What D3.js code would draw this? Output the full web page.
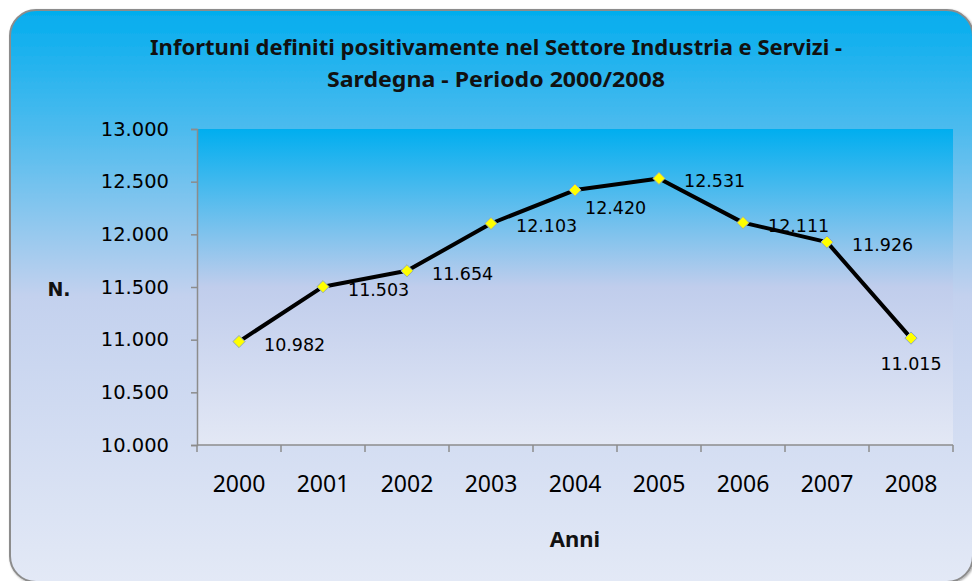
<!DOCTYPE html>
<html>
<head>
<meta charset="utf-8">
<script src="https://cdn.jsdelivr.net/npm/d3@7"></script>
<style>
  body { margin: 0; background: #ffffff; }
  svg { display: block; }
</style>
</head>
<body>
<div id="chart"></div>
<script>
// data
let years = ["2000", "2001", "2002", "2003", "2004", "2005", "2006", "2007", "2008"];
let infortuni = [10982, 11503, 11654, 12103, 12420, 12531, 12111, 11926, 11015];
// where each value label sits next to its point
let labelPlaces = ["right", "right", "right", "right", "belowRight", "right", "right", "right", "below"];
let yTicks = [10000, 10500, 11000, 11500, 12000, 12500, 13000];

let titleLines = ["Infortuni definiti positivamente nel Settore Industria e Servizi -", "Sardegna - Periodo 2000/2008"];

let width = 972;
let height = 581;

/* plot area */
let plotLeft = 197;
let plotRight = 953;
let plotTop = 129;
let plotBottom = 445;

let fmtThousands = function(v) {
    // 12531 -> "12.531", 13000 -> "13.000"
    let s = String(v);
    return s.slice(0, s.length - 3) + "." + s.slice(s.length - 3);
};

let svg = d3.select("#chart")
    .append("svg")
    .attr("width", width)
    .attr("height", height);

let defs = svg.append("defs");

let outerGrad = defs.append("linearGradient")
    .attr("id", "outerGrad")
    .attr("x1", 0).attr("y1", 0).attr("x2", 0).attr("y2", 1);
outerGrad.append("stop").attr("offset", "0%").attr("stop-color", "#03adee");
outerGrad.append("stop").attr("offset", "21%").attr("stop-color", "#4dbbee");
outerGrad.append("stop").attr("offset", "50%").attr("stop-color", "#c3d1ee");
outerGrad.append("stop").attr("offset", "100%").attr("stop-color", "#e3e9f6");

let plotGrad = defs.append("linearGradient")
    .attr("id", "plotGrad")
    .attr("x1", 0).attr("y1", 0).attr("x2", 0).attr("y2", 1);
plotGrad.append("stop").attr("offset", "0%").attr("stop-color", "#00aeef");
plotGrad.append("stop").attr("offset", "50%").attr("stop-color", "#c0cdec");
plotGrad.append("stop").attr("offset", "100%").attr("stop-color", "#e3e8f5");

let shadow = defs.append("filter").attr("id", "shadow")
    .attr("x", "-5%").attr("y", "-5%").attr("width", "110%").attr("height", "110%");
shadow.append("feDropShadow")
    .attr("dx", 1).attr("dy", 1).attr("stdDeviation", 1.2)
    .attr("flood-color", "#000").attr("flood-opacity", 0.35);

/* outer rounded box */
svg.append("rect")
    .attr("x", 10).attr("y", 10)
    .attr("width", 963).attr("height", 572)
    .attr("rx", 26).attr("ry", 26)
    .attr("fill", "url(#outerGrad)")
    .attr("stroke", "#8c8c8c")
    .attr("stroke-width", 2)
    .attr("filter", "url(#shadow)");

/* plot background */
svg.append("rect")
    .attr("x", plotLeft).attr("y", plotTop)
    .attr("width", plotRight - plotLeft).attr("height", plotBottom - plotTop)
    .attr("fill", "url(#plotGrad)");

/* scales */
let xScale = d3.scaleBand()
    .domain(years)
    .range([plotLeft, plotRight]);

let yScale = d3.scaleLinear()
    .domain([10000, 13000])
    .range([plotBottom, plotTop]);

/* y axis */
let yAxis = d3.axisLeft(yScale)
    .tickValues(yTicks)
    .tickSize(6)
    .tickPadding(22)
    .tickFormat(fmtThousands);

let yG = svg.append("g")
    .attr("transform", "translate(" + plotLeft + ",0)")
    .call(yAxis);
yG.select(".domain").attr("stroke", "#8c8c8c").attr("stroke-width", 1.5);
yG.selectAll(".tick line").attr("stroke", "#8c8c8c").attr("stroke-width", 1.5);
yG.selectAll(".tick text")
    .attr("fill", "#000")
    .style("font-family", "'DejaVu Sans', Verdana, sans-serif")
    .style("font-size", "19.5px");

/* x axis */
let xAxis = d3.axisBottom(xScale)
    .tickSize(0)
    .tickPadding(31);

let xG = svg.append("g")
    .attr("transform", "translate(0," + plotBottom + ")")
    .call(xAxis);
xG.select(".domain").attr("stroke", "#8c8c8c").attr("stroke-width", 1.5)
    .attr("d", "M" + plotLeft + ",0H" + plotRight);
xG.selectAll(".tick text")
    .attr("fill", "#000")
    .style("font-family", "'Noto Sans', sans-serif")
    .style("font-size", "23px");

/* category boundary ticks on the x axis */
let boundaries = years.map(function(y) { return xScale(y); }).concat([plotRight]);
svg.selectAll("line.xtick")
    .data(boundaries)
    .enter()
    .append("line")
    .attr("class", "xtick")
    .attr("x1", function(d) { return d; })
    .attr("x2", function(d) { return d; })
    .attr("y1", plotBottom)
    .attr("y2", plotBottom + 7)
    .attr("stroke", "#8c8c8c")
    .attr("stroke-width", 1.5);

let cx = function(i) { return xScale(years[i]) + xScale.bandwidth() / 2; };

/* line */
let line = d3.line()
    .x(function(d, i) { return cx(i); })
    .y(function(d) { return yScale(d); });

svg.append("path")
    .datum(infortuni)
    .attr("d", line)
    .attr("fill", "none")
    .attr("stroke", "#000")
    .attr("stroke-width", 4)
    .attr("stroke-linejoin", "round");

/* diamond markers */
svg.selectAll("path.marker")
    .data(infortuni)
    .enter()
    .append("path")
    .attr("class", "marker")
    .attr("d", d3.symbol().type(d3.symbolDiamond2).size(95))
    .attr("transform", function(d, i) {
        return "translate(" + cx(i) + "," + yScale(d) + ")";
    })
    .attr("fill", "#ffff00")
    .attr("stroke", "#8fa8c0")
    .attr("stroke-width", 1);

/* value labels */
svg.selectAll("text.value")
    .data(infortuni)
    .enter()
    .append("text")
    .attr("class", "value")
    .attr("x", function(d, i) {
        let p = labelPlaces[i];
        if (p == "below") return cx(i);
        if (p == "belowRight") return cx(i) + 10;
        return cx(i) + 25;
    })
    .attr("y", function(d, i) {
        let p = labelPlaces[i];
        if (p == "below") return yScale(d) + 27;
        if (p == "belowRight") return yScale(d) + 19;
        return yScale(d) + 4;
    })
    .attr("text-anchor", function(d, i) {
        return labelPlaces[i] == "below" ? "middle" : "start";
    })
    .attr("dominant-baseline", "middle")
    .attr("fill", "#000")
    .style("font-family", "'DejaVu Sans', Verdana, sans-serif")
    .style("font-size", "17.5px")
    .text(function(d) { return fmtThousands(d); });

/* title */
let titleLengths = [692, 338];
svg.selectAll("text.title")
    .data(titleLines)
    .enter()
    .append("text")
    .attr("class", "title")
    .attr("x", function(d, i) { return i == 0 ? 150 : 327; })
    .attr("y", function(d, i) { return 49 + i * 32; })
    .attr("dominant-baseline", "middle")
    .attr("textLength", function(d, i) { return titleLengths[i]; })
    .attr("lengthAdjust", "spacingAndGlyphs")
    .attr("fill", "#111")
    .style("font-family", "'Noto Sans', sans-serif")
    .style("font-weight", "bold")
    .style("font-size", "21px")
    .text(function(d) { return d; });

/* axis titles */
svg.append("text")
    .attr("x", 59).attr("y", 290)
    .attr("text-anchor", "middle")
    .attr("dominant-baseline", "middle")
    .attr("fill", "#111")
    .style("font-family", "'DejaVu Sans', Verdana, sans-serif")
    .style("font-weight", "bold")
    .style("font-size", "19px")
    .text("N.");

svg.append("text")
    .attr("x", 575).attr("y", 541)
    .attr("text-anchor", "middle")
    .attr("dominant-baseline", "middle")
    .attr("fill", "#111")
    .style("font-family", "'Noto Sans', sans-serif")
    .style("font-weight", "bold")
    .style("font-size", "22px")
    .text("Anni");
</script>
</body>
</html>
